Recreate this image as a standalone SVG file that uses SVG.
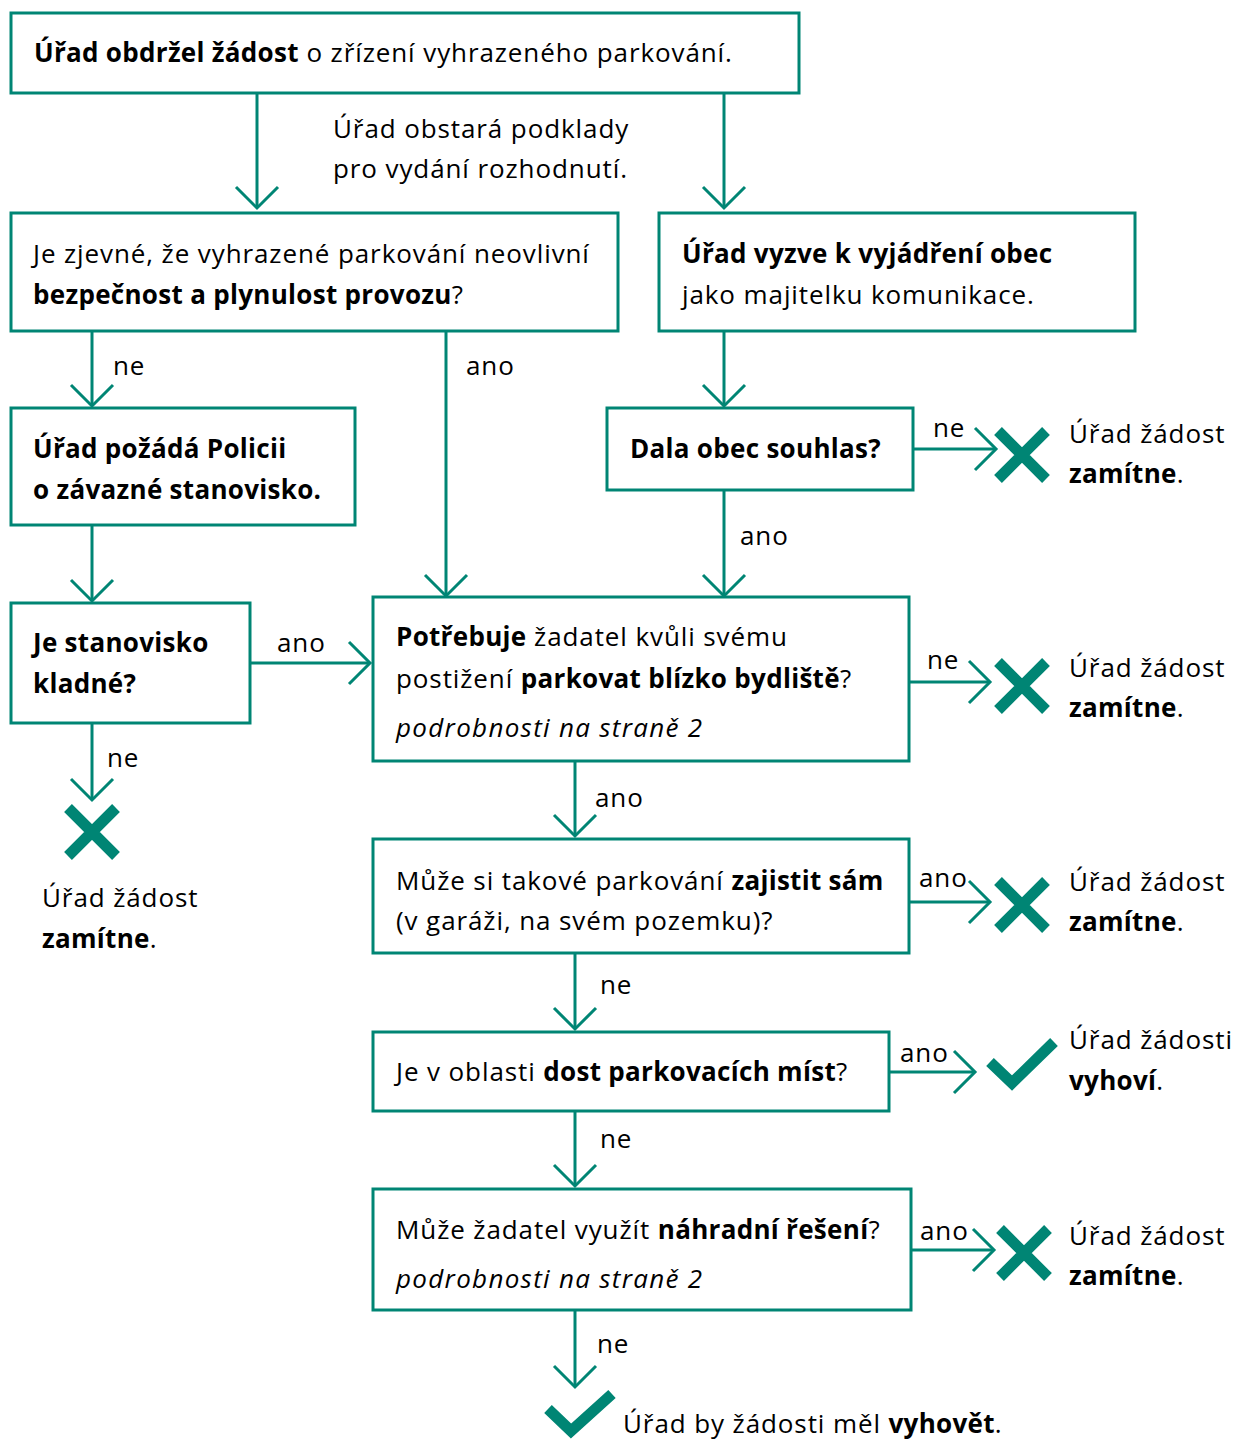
<svg xmlns="http://www.w3.org/2000/svg" width="1233" height="1439" viewBox="0 0 1233 1439">
<defs>
<style>
.box{fill:#fff;stroke:#008574;stroke-width:3}
.ln{fill:none;stroke:#008574;stroke-width:3;marker-end:url(#ah)}
.t{font-family:"Open Sans","Noto Sans",Lato,sans-serif;font-size:26px;fill:#000;letter-spacing:0.9px}
.b{font-weight:bold;letter-spacing:0.3px}
.i{font-style:italic;letter-spacing:1.3px}
.x{stroke:#008574;stroke-width:11;fill:none}
.ck{stroke:#008574;stroke-width:11;fill:none;stroke-linejoin:miter}
</style>
<marker id="ah" markerUnits="userSpaceOnUse" viewBox="-25 -25 30 50" markerWidth="30" markerHeight="50" refX="0" refY="0" orient="auto" overflow="visible">
<path d="M-21,-21 L0,0 L-21,21" fill="none" stroke="#008574" stroke-width="3"/>
</marker>
</defs>
<rect width="1233" height="1439" fill="#fff"/>
<g id="connectors">
<path class="ln" d="M257,93 V208"/>
<path class="ln" d="M724,93 V208"/>
<path class="ln" d="M92,331 V406"/>
<path class="ln" d="M446,331 V596"/>
<path class="ln" d="M724,331 V406"/>
<path class="ln" d="M913,449 H996"/>
<path class="ln" d="M724,490 V596"/>
<path class="ln" d="M92,525 V601"/>
<path class="ln" d="M250,663 H370"/>
<path class="ln" d="M92,723 V800"/>
<path class="ln" d="M909,682 H990"/>
<path class="ln" d="M575,761 V836"/>
<path class="ln" d="M909,902 H990"/>
<path class="ln" d="M575,953 V1029"/>
<path class="ln" d="M889,1072 H975"/>
<path class="ln" d="M575,1111 V1186"/>
<path class="ln" d="M911,1250 H994"/>
<path class="ln" d="M575,1310 V1387"/>
<text class="t" x="333" y="138">Úřad obstará podklady</text>
<text class="t" x="333" y="178">pro vydání rozhodnutí.</text>
<text class="t" x="113" y="375">ne</text>
<text class="t" x="466" y="375">ano</text>
<text class="t" x="933" y="437">ne</text>
<text class="t" x="740" y="545">ano</text>
<text class="t" x="277" y="652">ano</text>
<text class="t" x="107" y="767">ne</text>
<text class="t" x="927" y="669">ne</text>
<text class="t" x="595" y="807">ano</text>
<text class="t" x="919" y="887">ano</text>
<text class="t" x="600" y="994">ne</text>
<text class="t" x="900" y="1062">ano</text>
<text class="t" x="600" y="1148">ne</text>
<text class="t" x="920" y="1240">ano</text>
<text class="t" x="597" y="1353">ne</text>
</g>
<g id="n1"><rect class="box" x="11" y="13" width="788" height="80"/>
<text class="t" x="34" y="62"><tspan class="b">Úřad obdržel žádost</tspan> o zřízení vyhrazeného parkování.</text></g>
<g id="n2"><rect class="box" x="11" y="213" width="607" height="118"/>
<text class="t" x="33" y="263">Je zjevné, že vyhrazené parkování neovlivní</text>
<text class="t" x="33" y="304"><tspan class="b">bezpečnost a plynulost provozu</tspan>?</text></g>
<g id="n3"><rect class="box" x="659" y="213" width="476" height="118"/>
<text class="t" x="682" y="263"><tspan class="b">Úřad vyzve k vyjádření obec</tspan></text>
<text class="t" x="682" y="304">jako majitelku komunikace.</text></g>
<g id="n4"><rect class="box" x="11" y="408" width="344" height="117"/>
<text class="t b" x="33" y="458">Úřad požádá Policii</text>
<text class="t b" x="33" y="499">o závazné stanovisko.</text></g>
<g id="n5"><rect class="box" x="607" y="408" width="306" height="82"/>
<text class="t b" x="630" y="458">Dala obec souhlas?</text></g>
<g id="r1"><path class="x" d="M998,431 L1046,479 M1046,431 L998,479"/>
<text class="t" x="1069" y="443">Úřad žádost</text>
<text class="t b" x="1069" y="483">zamítne<tspan font-weight="normal">.</tspan></text></g>
<g id="n6"><rect class="box" x="11" y="603" width="239" height="120"/>
<text class="t b" x="33" y="652">Je stanovisko</text>
<text class="t b" x="33" y="693">kladné?</text></g>
<g id="r2"><path class="x" d="M68,808 L116,856 M116,808 L68,856"/>
<text class="t" x="42" y="907">Úřad žádost</text>
<text class="t b" x="42" y="948">zamítne<tspan font-weight="normal">.</tspan></text></g>
<g id="n7"><rect class="box" x="373" y="597" width="536" height="164"/>
<text class="t" x="396" y="646"><tspan class="b">Potřebuje</tspan> žadatel kvůli svému</text>
<text class="t" x="396" y="688">postižení <tspan class="b">parkovat blízko bydliště</tspan>?</text>
<text class="t i" x="396" y="737">podrobnosti na straně 2</text></g>
<g id="r3"><path class="x" d="M998,662 L1046,710 M1046,662 L998,710"/>
<text class="t" x="1069" y="677">Úřad žádost</text>
<text class="t b" x="1069" y="717">zamítne<tspan font-weight="normal">.</tspan></text></g>
<g id="n8"><rect class="box" x="373" y="839" width="536" height="114"/>
<text class="t" x="396" y="890">Může si takové parkování <tspan class="b">zajistit sám</tspan></text>
<text class="t" x="396" y="930">(v garáži, na svém pozemku)?</text></g>
<g id="r4"><path class="x" d="M998,881 L1046,929 M1046,881 L998,929"/>
<text class="t" x="1069" y="891">Úřad žádost</text>
<text class="t b" x="1069" y="931">zamítne<tspan font-weight="normal">.</tspan></text></g>
<g id="n9"><rect class="box" x="373" y="1032" width="516" height="79"/>
<text class="t" x="396" y="1081">Je v oblasti <tspan class="b">dost parkovacích míst</tspan>?</text></g>
<g id="r5"><path class="ck" d="M990,1062 L1012,1083 L1054,1042"/>
<text class="t" x="1069" y="1049">Úřad žádosti</text>
<text class="t b" x="1069" y="1090">vyhoví<tspan font-weight="normal">.</tspan></text></g>
<g id="n10"><rect class="box" x="373" y="1189" width="538" height="121"/>
<text class="t" x="396" y="1239">Může žadatel využít <tspan class="b">náhradní řešení</tspan>?</text>
<text class="t i" x="396" y="1288">podrobnosti na straně 2</text></g>
<g id="r6"><path class="x" d="M1000,1229 L1048,1277 M1048,1229 L1000,1277"/>
<text class="t" x="1069" y="1245">Úřad žádost</text>
<text class="t b" x="1069" y="1285">zamítne<tspan font-weight="normal">.</tspan></text></g>
<g id="r7"><path class="ck" d="M548,1409 L571,1431 L612,1394" stroke-width="13"/>
<text class="t" x="623" y="1433">Úřad by žádosti měl <tspan class="b">vyhovět</tspan>.</text></g>
</svg>
